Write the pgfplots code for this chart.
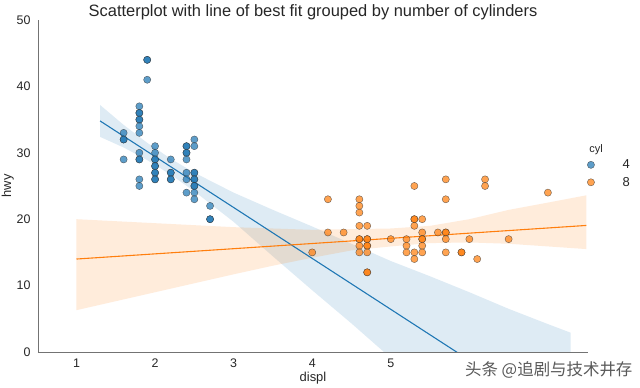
\documentclass[border=0pt]{standalone}
\usepackage{pgfplots}
\pgfplotsset{compat=1.18}
\usepackage{fontspec}
\setmainfont{Liberation Sans}
\newfontfamily\cjk{Noto Sans CJK SC}
\definecolor{cblue}{HTML}{1F77B4}
\definecolor{corange}{HTML}{FF7F0E}
\definecolor{txt}{HTML}{262626}
\begin{document}
\begin{tikzpicture}
\useasboundingbox (0,0) rectangle (640bp,388bp);
\begin{axis}[
  at={(38bp,36bp)}, anchor=south west,
  width=550bp, height=332bp, scale only axis,
  xmin=0.51, xmax=7.51, ymin=0, ymax=50,
  xtick={1,2,3,4,5}, ytick={0,10,20,30,40,50},
  axis x line*=bottom, axis y line*=left,
  axis line style={black!55, line width=0.8pt, -},
  major tick length=0pt,
  /pgf/number format/assume math mode=true,
  tick label style={font=\fontsize{12.5}{14}\selectfont, text=txt},
  xticklabel style={yshift=-3bp},
  yticklabel style={xshift=-4bp},
  xlabel={displ}, ylabel={hwy},
  label style={font=\fontsize{13}{15}\selectfont, text=txt},
  xlabel style={yshift=2bp},
  ylabel style={yshift=-4bp},
  title={Scatterplot with line of best fit grouped by number of cylinders},
  title style={font=\fontsize{16.5}{18}\selectfont, text=txt, yshift=-9bp},
  legend style={draw=none, fill=none, at={(axis description cs:0.993,0.592)}, anchor=north west,
    font=\fontsize{13}{15}\selectfont, text=txt, row sep=3bp,
    /tikz/every odd column/.append style={column sep=26bp}},
  legend cell align=left,
]
% confidence bands
\addplot[fill=cblue, fill opacity=0.15, draw=none, forget plot] coordinates {
(1.3,37.2) (1.6,34.2) (1.9,31.5) (2.2,29.1) (2.5,27.0) (3.0,24.0) (3.5,21.4) (4.0,18.9) (4.5,16.3) (5.0,13.7) (5.5,11.4) (6.0,9.0) (6.5,6.5) (7.0,4.2) (7.29,2.9)
(7.29,-25.1) (7.0,-22.0) (6.5,-16.7) (6.0,-11.4) (5.5,-6.2) (5.0,-0.9) (4.5,4.3) (4.0,9.3) (3.5,14.4) (3.0,19.6) (2.5,24.2) (2.2,26.7) (1.9,28.9) (1.6,30.8) (1.3,32.4)
};
\addplot[fill=corange, fill opacity=0.15, draw=none, forget plot] coordinates {
(1.0,20.0) (2.0,19.4) (3.0,18.8) (3.5,18.6) (4.0,18.4) (4.5,18.5) (5.0,18.6) (5.5,19.0) (6.0,20.0) (6.5,21.4) (7.0,22.5) (7.49,23.6)
(7.49,15.5) (7.0,15.9) (6.5,16.3) (6.0,16.5) (5.5,16.4) (5.0,15.9) (4.5,15.3) (4.0,14.2) (3.5,13.0) (3.0,11.7) (2.0,9.0) (1.0,6.3)
};
% scatter cyl 4
\addplot[only marks, mark=*, mark size=3.6bp, mark options={fill=cblue, draw=black!80, line width=0.4pt, opacity=0.72}] coordinates {
(1.6,33) (1.6,32) (1.6,32) (1.6,29)
(1.8,37) (1.8,36) (1.8,36) (1.8,35) (1.8,35) (1.8,34) (1.8,33) (1.8,30) (1.8,29) (1.8,29) (1.8,26) (1.8,25)
(1.9,44) (1.9,44) (1.9,41)
(2.0,31) (2.0,30) (2.0,29) (2.0,29) (2.0,28) (2.0,28) (2.0,27) (2.0,27) (2.0,26) (2.0,26)
(2.2,29) (2.2,27) (2.2,27) (2.2,26) (2.2,26)
(2.4,31) (2.4,31) (2.4,30) (2.4,30) (2.4,29) (2.4,27) (2.4,26) (2.4,24)
(2.5,32) (2.5,31) (2.5,27) (2.5,27) (2.5,26) (2.5,26) (2.5,25) (2.5,25) (2.5,24) (2.5,23)
(2.7,22) (2.7,20) (2.7,20)
};
\addlegendentry{4}
% scatter cyl 8
\addplot[only marks, mark=*, mark size=3.6bp, mark options={fill=corange, draw=black!80, line width=0.4pt, opacity=0.72}] coordinates {
(4.0,15)
(4.2,23) (4.2,18)
(4.4,18)
(4.6,23) (4.6,22) (4.6,21) (4.6,19) (4.6,17) (4.6,17) (4.6,16) (4.6,15)
(4.7,19) (4.7,17) (4.7,17) (4.7,16) (4.7,16) (4.7,15) (4.7,12) (4.7,12)
(5.0,17)
(5.2,17) (5.2,16) (5.2,15)
(5.3,25) (5.3,20) (5.3,20) (5.3,19) (5.3,15) (5.3,14)
(5.4,20) (5.4,18) (5.4,17) (5.4,17) (5.4,16) (5.4,15)
(5.6,18)
(5.7,26) (5.7,23) (5.7,18) (5.7,18) (5.7,17) (5.7,15)
(5.9,15) (5.9,15)
(6.0,17)
(6.1,14)
(6.2,26) (6.2,25)
(6.5,17)
(7.0,24)
};
\addlegendentry{8}
% regression lines
\addplot[cblue, line width=1.1pt, forget plot] coordinates {(1.3,34.8) (7.29,-11.14)};
\addplot[corange, line width=1.1pt, forget plot] coordinates {(1.0,14.0) (7.49,19.06)};
\end{axis}
\node[font=\fontsize{11}{13}\selectfont, text=txt] at (596bp,238bp) {cyl};
\node[anchor=west, font=\cjk\fontsize{16.5}{18}\selectfont, text=black!65, fill=white, inner sep=1bp] at (464bp,18bp) {头条 @追剧与技术井存};
\end{tikzpicture}
\end{document}
